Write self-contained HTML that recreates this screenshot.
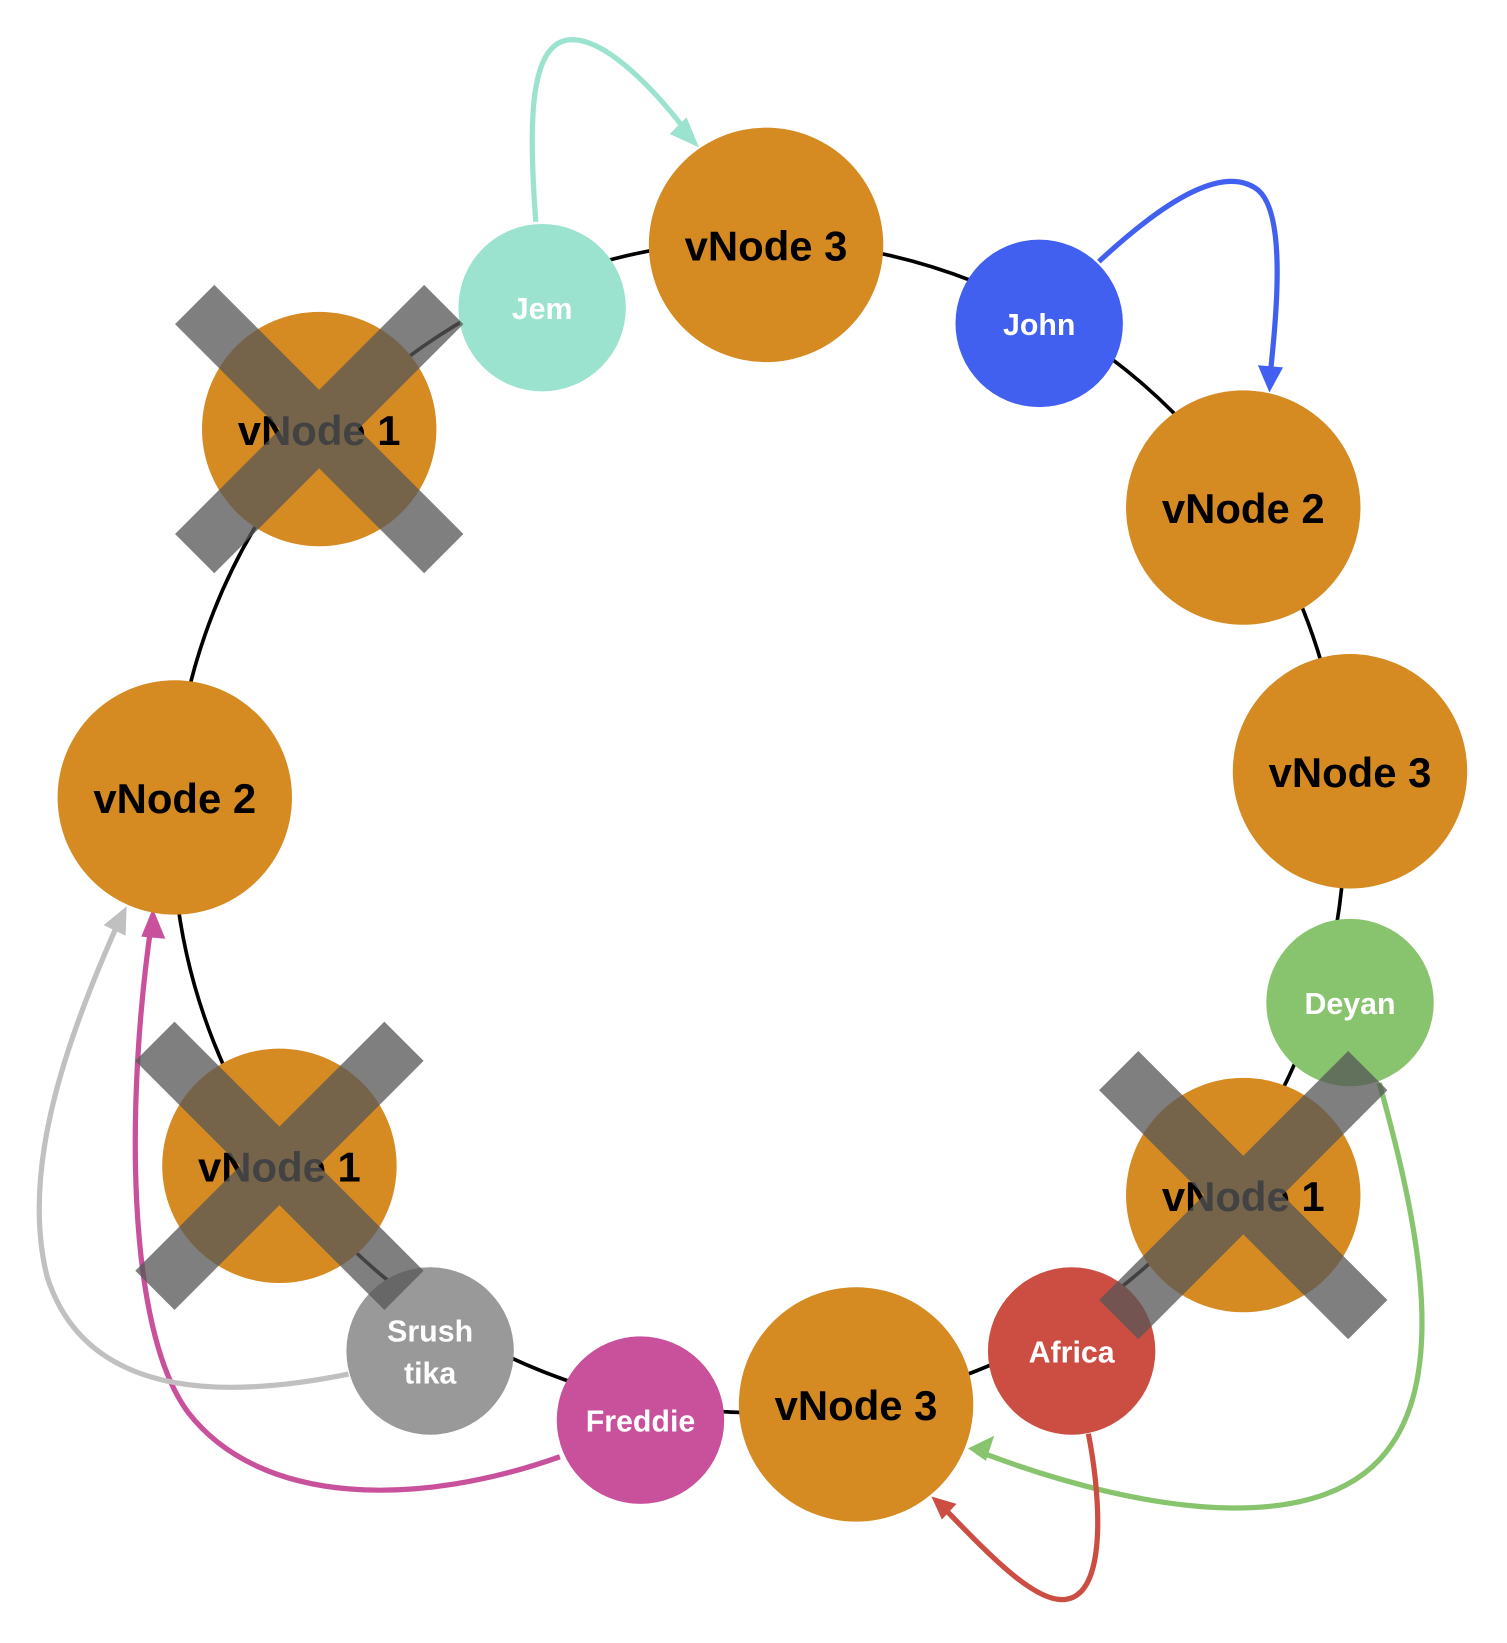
<!DOCTYPE html>
<html><head><meta charset="utf-8"><style>html,body{margin:0;padding:0;background:#fff}svg{display:block}</style></head>
<body>
<svg width="1507" height="1643" viewBox="0 0 1440 1570" xmlns="http://www.w3.org/2000/svg" font-family="Liberation Sans, Arial, sans-serif" font-weight="bold">
<defs>
<marker id="ah" markerWidth="8" markerHeight="8" refX="6" refY="4" orient="auto" markerUnits="strokeWidth"><path d="M0,0 L8,4 L0,8 Z" fill="context-stroke"/></marker>
</defs>
<circle cx="725" cy="790" r="560" fill="none" stroke="#000" stroke-width="3.5"/>
<g fill="none" stroke-width="5">
<path d="M512,212 C505,120 505,40 545,38 C580,36 630,90 662,134" stroke="#9be3cf"/>
<path d="M1050,250 C1120,185 1170,160 1200,180 C1230,200 1220,300 1213,365" stroke="#4160f0"/>
<path d="M1318,1035 C1350,1150 1385,1300 1330,1380 C1270,1470 1100,1450 935,1387" stroke="#88c46e"/>
<path d="M1040,1370 C1050,1420 1060,1520 1020,1528 C990,1535 940,1480 898,1437" stroke="#cc4e42"/>
<path d="M535,1392 C400,1440 250,1440 180,1350 C120,1270 120,1050 145,880" stroke="#c9519c"/>
<path d="M333,1313 C200,1340 80,1330 45,1220 C20,1120 60,1000 116,875" stroke="#c0c0c0"/>
</g>
<g>
<polygon points="668,141 640,128 656,112" fill="#9be3cf"/>
<polygon points="1213,375 1202,349 1226,351" fill="#4160f0"/>
<polygon points="925,1384 950,1372 942,1396" fill="#88c46e"/>
<polygon points="890,1430 914,1437 900,1452" fill="#cc4e42"/>
<polygon points="146,868 135,895 158,897" fill="#c9519c"/>
<polygon points="121,866 99,884 120,894" fill="#c0c0c0"/>
</g>
<g fill="#d68a22">
<circle cx="732" cy="234" r="112"/>
<circle cx="305" cy="410" r="112"/>
<circle cx="1188" cy="485" r="112"/>
<circle cx="1290" cy="737" r="112"/>
<circle cx="1188" cy="1142" r="112"/>
<circle cx="818" cy="1342" r="112"/>
<circle cx="267" cy="1114" r="112"/>
<circle cx="167" cy="762" r="112"/>
</g>
<circle cx="518" cy="294" r="80" fill="#9be3cf"/>
<circle cx="993" cy="309" r="80" fill="#4160f0"/>
<circle cx="1290" cy="958" r="80" fill="#88c46e"/>
<circle cx="1024" cy="1291" r="80" fill="#cc4e42"/>
<circle cx="612" cy="1357" r="80" fill="#c9519c"/>
<circle cx="411" cy="1291" r="80" fill="#999"/>
<g font-size="40" fill="#000" text-anchor="middle">
<text x="732" y="249">vNode 3</text>
<text x="305" y="425">vNode 1</text>
<text x="1188" y="500">vNode 2</text>
<text x="1290" y="752">vNode 3</text>
<text x="1188" y="1157">vNode 1</text>
<text x="818" y="1357">vNode 3</text>
<text x="267" y="1129">vNode 1</text>
<text x="167" y="777">vNode 2</text>
</g>
<g font-size="29" fill="#fff" text-anchor="middle">
<text x="518" y="305">Jem</text>
<text x="993" y="320">John</text>
<text x="1290" y="969">Deyan</text>
<text x="1024" y="1302">Africa</text>
<text x="612" y="1368">Freddie</text>
<text x="411" y="1282">Srush</text>
<text x="411" y="1322">tika</text>
</g>
<g stroke="#575757" stroke-opacity="0.76" stroke-width="53" stroke-linecap="butt">
<path d="M186,291 L424,529 M424,291 L186,529"/>
<path d="M148,995 L386,1233 M386,995 L148,1233"/>
<path d="M1069,1023 L1307,1261 M1307,1023 L1069,1261"/>
</g>
</svg>
</body></html>
